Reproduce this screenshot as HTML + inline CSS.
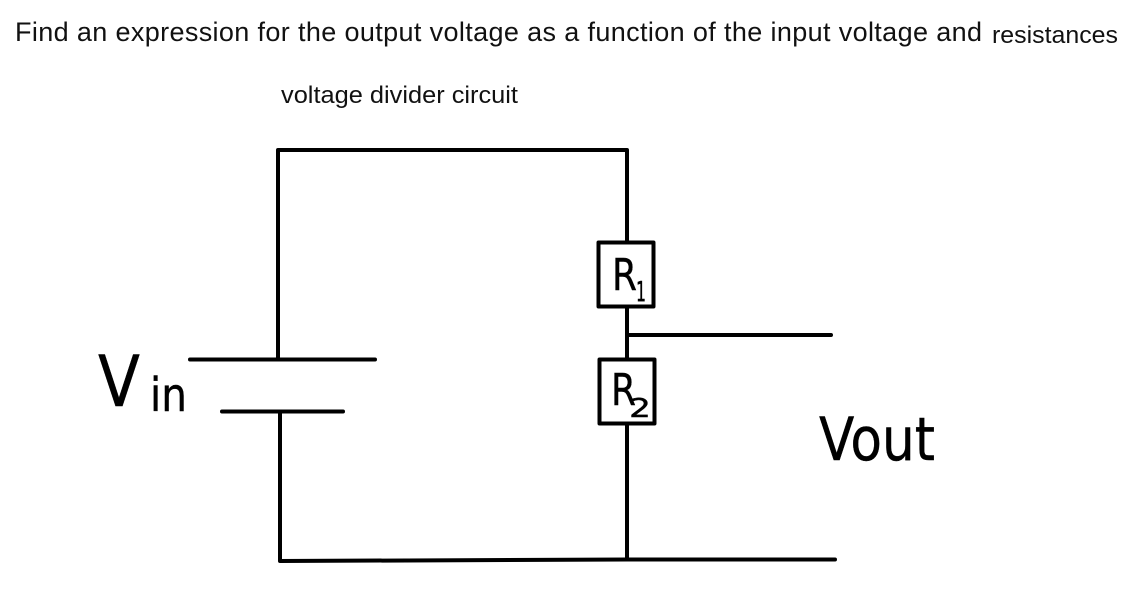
<!DOCTYPE html>
<html>
<head>
<meta charset="utf-8">
<style>
html,body{margin:0;padding:0;background:#fff;width:1129px;height:608px;overflow:hidden}
svg{display:block}
</style>
</head>
<body>
<svg width="1129" height="608" viewBox="0 0 1129 608" xmlns="http://www.w3.org/2000/svg">
<rect width="1129" height="608" fill="#fff"/>
<g font-family="'Liberation Sans',sans-serif" fill="#111">
<text x="15" y="41" font-size="27" textLength="967" lengthAdjust="spacing">Find an expression for the output voltage as a function of the input voltage and</text>
<text x="992" y="43" font-size="24" textLength="126" lengthAdjust="spacingAndGlyphs">resistances</text>
<text x="281" y="103" font-size="24" textLength="237" lengthAdjust="spacingAndGlyphs">voltage divider circuit</text>
</g>
<g stroke="#000" fill="none" stroke-linecap="round" stroke-linejoin="round">
<path d="M278 358V150H627V242" stroke-width="4"/>
<path d="M190 359.500H375" stroke-width="4"/>
<path d="M222 411.500H343" stroke-width="4"/>
<path d="M280 412V561L627 559.500H835" stroke-width="4"/>
<rect x="598.500" y="242.500" width="55" height="64" stroke-width="4"/>
<rect x="599.500" y="359.500" width="55" height="64" stroke-width="4"/>
<path d="M627 307V358M627 335H831M627 424V559" stroke-width="4"/>
</g>
<g font-family="'DejaVu Sans',sans-serif" fill="#000" stroke="#000" stroke-width="0.400">
<text x="98" y="406" font-size="70" textLength="42" lengthAdjust="spacingAndGlyphs">V</text>
<text x="150" y="411" font-size="46" textLength="37" lengthAdjust="spacingAndGlyphs">in</text>
<text x="612" y="290" font-size="44" textLength="25" lengthAdjust="spacingAndGlyphs">R</text>
<text x="636" y="301" font-size="28" textLength="10" lengthAdjust="spacingAndGlyphs">1</text>
<text x="611" y="405" font-size="44" textLength="25" lengthAdjust="spacingAndGlyphs">R</text>
<text x="629" y="417" font-size="26" textLength="22" lengthAdjust="spacingAndGlyphs">2</text>
<text x="819" y="460" font-size="60" textLength="116" lengthAdjust="spacingAndGlyphs">Vout</text>
</g>
</svg>
</body>
</html>
